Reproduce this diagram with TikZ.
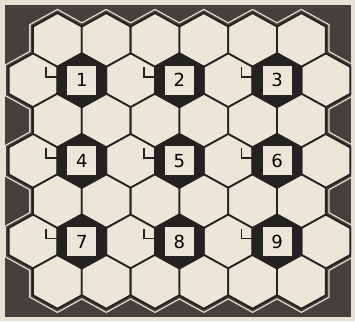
\documentclass[tikz,border=0pt]{standalone}
\usepackage{fontspec}
\setsansfont{DejaVu Sans}
\definecolor{paper}{HTML}{E6E1D3}
\definecolor{board}{HTML}{44413D}
\definecolor{cream}{HTML}{ECE6D9}
\definecolor{ink}{HTML}{242220}

% one hexagon around (#2,#3), drawn with style #1
\newcommand\hexcell[3]{%
  \draw[#1] (#2+24.4,#3-13.45) -- (#2,#3-26.9) -- (#2-24.4,#3-13.45)
    -- (#2-24.4,#3+13.45) -- (#2,#3+26.9) -- (#2+24.4,#3+13.45) -- cycle;}

% the whole board of 45 cells, drawn with style #1
\newcommand\hexboard[1]{%
  \foreach \r in {0,...,6}{%
    \pgfmathtruncatemacro\odd{mod(\r,2)}%
    \pgfmathtruncatemacro\last{5+\odd}%
    \foreach \k in {0,...,\last}{%
      \pgfmathsetmacro\hx{57.4-24.4*\odd+48.8*\k}%
      \pgfmathsetmacro\hy{40+40.3*\r}%
      \hexcell{#1}{\hx}{\hy}%
    }%
  }}

\begin{document}
\begin{tikzpicture}[x=1pt, y=-1pt]
    % Styles
    \tikzstyle{outerline} = [draw=paper, line width=7.6pt, line join=miter]
    \tikzstyle{gapline} = [draw=board, line width=5pt, line join=miter]
    \tikzstyle{cell} = [draw=ink, fill=cream, line width=1.8pt, line join=miter]
    \tikzstyle{hole} = [draw=ink, fill=ink, line width=1.8pt, line join=miter]
    \tikzstyle{numbox} = [rectangle, fill=cream, minimum size=29pt, inner sep=0pt, font=\sffamily\fontsize{18}{18}\selectfont]
    \tikzstyle{corner} = [draw=ink, line width=1.8pt]

    % Frame
    \useasboundingbox (0,0) rectangle (355,321);
    \fill[paper] (0,0) rectangle (355,321);
    \fill[board] (5,5) rectangle (351,317);

    % Cells
    \begin{scope}
        \clip (5,5) rectangle (351,317);
        \hexboard{outerline}
        \hexboard{gapline}
    \end{scope}
    \hexboard{cell}

    % Numbered cells
    \foreach \n/\hx/\hy in {1/81.8/80.3, 2/179.4/80.3, 3/277/80.3,
                            4/81.8/160.9, 5/179.4/160.9, 6/277/160.9,
                            7/81.8/241.5, 8/179.4/241.5, 9/277/241.5}{
        \hexcell{hole}{\hx}{\hy}
        \node[numbox] (box\n) at (\hx,\hy) {\n};
        \draw[corner] ([shift={(-35.5,-13)}]box\n.center) |- ([shift={(-24.4,-3)}]box\n.center);
    }
\end{tikzpicture}
\end{document}
